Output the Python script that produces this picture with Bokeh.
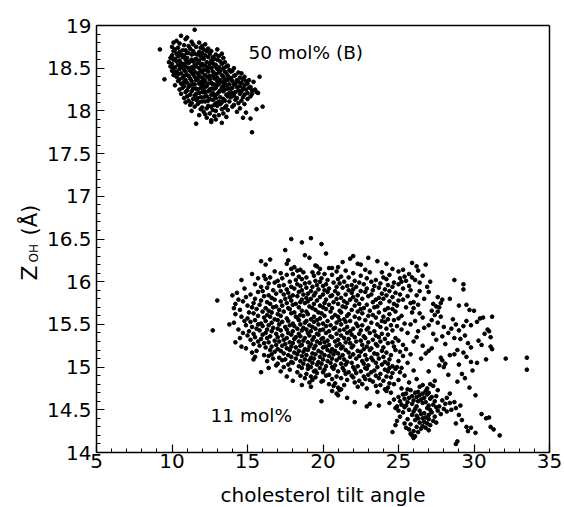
import math
from bokeh.plotting import figure
from bokeh.models import Range1d, FixedTicker, CustomJSTickFormatter, Label, LinearAxis
from bokeh.embed import file_html
from bokeh.resources import INLINE

FONT = "DejaVu Sans"

x_label = "cholesterol tilt angle"
label_b = "50 mol% (B)"
label_c = "11 mol%"
x_ticks = [5, 10, 15, 20, 25, 30, 35]
y_ticks = [14, 14.5, 15, 15.5, 16, 16.5, 17, 17.5, 18, 18.5, 19]

# 50 mol% (B) cluster: tilt angle, Z_OH
b_x = [
    11.5, 10.6, 11.0, 10.9, 10.3, 11.3, 10.1, 10.5, 11.8, 12.2,
    10.8, 11.4, 12.0, 10.0, 10.4, 11.1, 11.6, 12.4, 11.9, 9.2,
    10.2, 10.7, 11.2, 12.1, 12.6, 13.0, 10.1, 10.5, 10.9, 11.4,
    11.8, 12.3, 11.0, 10.3, 10.6, 11.1, 11.5, 11.7, 12.0, 12.5,
    12.9, 13.3, 10.0, 10.4, 10.8, 11.3, 11.9, 12.2, 12.7, 13.1,
    9.9, 10.2, 10.7, 11.0, 11.6, 12.0, 12.4, 12.8, 13.4, 11.3,
    10.1, 10.5, 10.9, 11.2, 11.5, 11.8, 12.1, 12.6, 13.0, 13.2,
    9.8, 10.3, 10.6, 11.0, 11.4, 11.7, 12.3, 12.7, 13.5, 12.0,
    10.0, 10.4, 10.8, 11.1, 11.5, 11.9, 12.2, 12.5, 12.9, 13.3,
    13.7, 9.9, 10.2, 10.6, 10.9, 11.3, 11.6, 12.0, 12.4, 12.8,
    13.1, 13.6, 14.1, 10.1, 10.5, 10.7, 11.1, 11.4, 11.8, 12.1,
    12.6, 13.0, 13.4, 13.8, 10.0, 10.3, 10.8, 11.2, 11.5, 11.9,
    12.3, 12.7, 13.2, 13.5, 14.0, 14.4, 10.2, 10.6, 10.9, 11.3,
    11.7, 12.0, 12.4, 12.8, 13.1, 13.6, 13.9, 14.6, 10.1, 10.4,
    10.8, 11.0, 11.4, 11.8, 12.2, 12.5, 12.9, 13.3, 13.7, 14.2,
    14.8, 10.3, 10.7, 11.1, 11.5, 11.6, 12.0, 12.3, 12.7, 13.0,
    13.4, 13.8, 14.1, 14.5, 15.8, 9.5, 10.5, 10.9, 11.2, 11.7,
    12.1, 12.5, 12.8, 13.2, 13.5, 13.9, 14.3, 14.7, 15.1, 10.4,
    10.8, 11.3, 11.6, 11.9, 12.2, 12.6, 13.0, 13.3, 13.7, 14.0,
    14.4, 14.9, 15.4, 10.6, 11.0, 11.4, 11.8, 12.1, 12.4, 12.8,
    13.1, 13.5, 13.8, 14.2, 14.6, 15.0, 10.2, 10.8, 11.2, 11.5,
    12.0, 12.3, 12.7, 13.0, 13.4, 13.6, 14.1, 14.5, 14.8, 15.2,
    10.7, 11.1, 11.6, 11.9, 12.2, 12.6, 12.9, 13.3, 13.7, 14.0,
    14.3, 14.7, 15.1, 15.5, 10.5, 11.0, 11.4, 11.7, 12.1, 12.5,
    12.8, 13.2, 13.5, 13.9, 14.4, 14.9, 15.3, 10.9, 11.3, 11.8,
    12.0, 12.4, 12.7, 13.1, 13.4, 13.8, 14.2, 14.6, 15.0, 15.6,
    10.6, 11.2, 11.6, 12.2, 12.6, 13.0, 13.6, 14.0, 14.5, 14.8,
    15.3, 15.7, 11.0, 11.5, 11.9, 12.3, 12.8, 13.2, 13.7, 14.1,
    14.7, 15.2, 10.8, 11.4, 11.7, 12.1, 12.5, 12.9, 13.4, 13.9,
    14.3, 15.0, 11.1, 11.6, 12.0, 12.4, 12.7, 13.1, 13.5, 14.2,
    14.6, 10.9, 11.3, 11.8, 12.2, 12.9, 13.3, 13.8, 14.4, 11.2,
    11.7, 12.4, 12.8, 13.2, 13.6, 14.1, 14.8, 11.5, 12.0, 12.6,
    13.0, 13.5, 16.0, 14.0, 11.9, 12.3, 12.7, 13.3, 14.5, 15.6,
    11.3, 12.1, 12.9, 13.7, 14.3, 12.5, 12.2, 13.4, 14.9, 11.8,
    12.8, 13.1, 12.3, 13.6, 14.7, 15.2, 12.9, 12.6, 12.6, 13.3,
    11.6, 15.3,
]
b_y = [
    18.95, 18.88, 18.86, 18.84, 18.82, 18.81, 18.80, 18.79, 18.80, 18.78,
    18.77, 18.78, 18.76, 18.75, 18.74, 18.76, 18.75, 18.73, 18.74, 18.72,
    18.72, 18.71, 18.73, 18.72, 18.70, 18.72, 18.70, 18.69, 18.71, 18.70,
    18.69, 18.70, 18.68, 18.67, 18.66, 18.68, 18.67, 18.66, 18.68, 18.67,
    18.66, 18.67, 18.65, 18.64, 18.65, 18.66, 18.64, 18.65, 18.63, 18.64,
    18.62, 18.61, 18.63, 18.62, 18.61, 18.62, 18.63, 18.61, 18.62, 18.60,
    18.60, 18.59, 18.60, 18.58, 18.60, 18.59, 18.61, 18.59, 18.60, 18.58,
    18.57, 18.58, 18.56, 18.57, 18.58, 18.56, 18.57, 18.56, 18.57, 18.55,
    18.55, 18.54, 18.55, 18.56, 18.54, 18.55, 18.53, 18.55, 18.54, 18.55,
    18.53, 18.52, 18.51, 18.53, 18.52, 18.51, 18.52, 18.53, 18.51, 18.52,
    18.51, 18.52, 18.50, 18.50, 18.49, 18.51, 18.50, 18.49, 18.50, 18.48,
    18.50, 18.49, 18.50, 18.48, 18.47, 18.46, 18.48, 18.47, 18.46, 18.47,
    18.48, 18.46, 18.47, 18.46, 18.47, 18.45, 18.45, 18.44, 18.46, 18.45,
    18.44, 18.45, 18.46, 18.44, 18.45, 18.44, 18.46, 18.44, 18.42, 18.43,
    18.41, 18.42, 18.43, 18.41, 18.42, 18.41, 18.43, 18.42, 18.41, 18.42,
    18.40, 18.40, 18.39, 18.41, 18.40, 18.38, 18.39, 18.40, 18.41, 18.39,
    18.40, 18.39, 18.41, 18.39, 18.40, 18.37, 18.37, 18.36, 18.38, 18.37,
    18.36, 18.37, 18.38, 18.36, 18.37, 18.38, 18.36, 18.37, 18.36, 18.35,
    18.34, 18.35, 18.36, 18.34, 18.35, 18.33, 18.35, 18.34, 18.36, 18.35,
    18.34, 18.35, 18.34, 18.32, 18.33, 18.31, 18.32, 18.33, 18.32, 18.31,
    18.32, 18.33, 18.31, 18.32, 18.33, 18.32, 18.30, 18.29, 18.30, 18.31,
    18.30, 18.29, 18.31, 18.30, 18.29, 18.30, 18.31, 18.29, 18.30, 18.28,
    18.27, 18.28, 18.26, 18.27, 18.28, 18.26, 18.27, 18.28, 18.26, 18.27,
    18.28, 18.26, 18.27, 18.25, 18.25, 18.24, 18.26, 18.25, 18.24, 18.25,
    18.26, 18.24, 18.25, 18.26, 18.24, 18.25, 18.24, 18.22, 18.23, 18.21,
    18.22, 18.23, 18.21, 18.22, 18.23, 18.21, 18.22, 18.23, 18.21, 18.22,
    18.20, 18.19, 18.20, 18.21, 18.19, 18.20, 18.19, 18.21, 18.20, 18.19,
    18.20, 18.21, 18.17, 18.18, 18.16, 18.17, 18.18, 18.16, 18.17, 18.18,
    18.16, 18.17, 18.15, 18.14, 18.15, 18.16, 18.14, 18.15, 18.14, 18.16,
    18.15, 18.14, 18.12, 18.13, 18.11, 18.12, 18.13, 18.11, 18.12, 18.13,
    18.12, 18.10, 18.09, 18.10, 18.11, 18.09, 18.10, 18.11, 18.09, 18.07,
    18.08, 18.06, 18.07, 18.08, 18.06, 18.07, 18.08, 18.05, 18.04, 18.05,
    18.06, 18.04, 18.05, 18.05, 18.02, 18.03, 18.01, 18.02, 18.03, 18.02,
    18.00, 17.99, 18.00, 18.01, 17.99, 17.97, 17.96, 17.97, 17.98, 17.95,
    17.94, 17.95, 17.92, 17.93, 17.92, 17.91, 17.90, 17.89, 17.87, 17.86,
    17.85, 17.75,
]

# 11 mol% cluster: tilt angle, Z_OH
c_x = [
    17.9, 19.2,
    18.6, 19.9,
    17.5,
    20.2,
    18.8, 19.1, 22.0,
    16.5, 21.8, 23.0,
    15.9, 17.7, 21.3, 23.6,
    16.2, 17.6, 19.5, 22.3, 22.5, 24.2, 25.9, 26.8,
    18.1, 19.6, 20.6, 21.0, 26.2,
    17.9, 18.5, 19.8, 20.4, 22.8, 24.6, 25.3,
    16.8, 18.3, 19.3, 20.9, 21.5, 23.9, 25.0, 26.3,
    15.3, 17.2, 18.0, 18.7, 19.7, 20.1, 22.0, 23.1, 25.7,
    16.1, 17.6, 18.4, 19.4, 20.6, 21.2, 22.5, 24.4, 25.4, 26.6,
    15.7, 16.5, 17.3, 18.9, 19.9, 21.7, 22.9, 24.0, 25.1, 25.9,
    14.6, 16.2, 17.0, 18.2, 18.6, 19.5, 20.3, 21.0, 22.1, 23.5, 24.2, 25.5, 26.1, 28.7,
    16.8, 17.8, 19.1, 19.8, 20.7, 21.4, 22.4, 23.2, 24.7, 25.2, 27.1, 26.4,
    15.5, 16.4, 17.4, 18.3, 18.8, 19.6, 20.2, 21.1, 21.9, 22.7, 23.8, 24.3, 25.0, 29.3,
    15.9, 17.1, 17.9, 18.5, 19.3, 20.0, 20.9, 21.6, 22.2, 23.4, 24.6, 25.7, 26.9,
    14.8, 16.3, 17.6, 18.1, 18.9, 19.7, 20.4, 21.3, 22.0, 22.9, 23.7, 24.1, 25.3, 29.3,
    16.0, 16.7, 17.2, 18.6, 19.2, 20.1, 20.8, 21.7, 22.5, 23.3, 24.4, 25.8, 26.4,
    14.3, 15.7, 16.9, 17.7, 18.4, 19.0, 19.5, 20.3, 21.0, 21.9, 22.8, 23.9, 24.8, 27.0,
    14.0, 15.2, 16.4, 17.4, 18.0, 18.7, 19.4, 20.0, 20.6, 21.5, 22.3, 23.2, 24.2, 25.1, 26.2,
    14.9, 16.1, 16.6, 17.8, 18.3, 18.9, 19.8, 20.5, 21.2, 22.0, 23.0, 23.7, 24.6, 25.6, 27.6,
    14.4, 15.5, 16.8, 17.5, 18.6, 19.2, 20.2, 20.9, 21.8, 22.6, 23.5, 24.0, 25.3, 26.7, 27.9, 28.4,
    13.0, 14.7, 15.9, 16.3, 17.2, 17.9, 18.5, 19.0, 19.6, 20.7, 21.4, 22.2, 23.3, 24.4, 25.0, 26.0,
    14.2, 15.4, 16.5, 17.6, 18.2, 18.8, 19.4, 20.1, 21.0, 21.6, 22.4, 23.8, 24.7, 25.8, 27.3, 27.8,
    15.0, 15.8, 16.9, 17.3, 18.0, 19.1, 19.8, 20.4, 21.3, 22.1, 22.9, 23.6, 24.9, 26.3, 27.5, 29.0, 29.5,
    14.1, 15.3, 16.2, 16.7, 17.7, 18.4, 19.3, 20.0, 20.6, 21.5, 22.7, 23.4, 24.3, 25.5, 26.0, 27.7,
    14.5, 15.6, 16.4, 17.1, 17.8, 18.6, 19.5, 20.2, 21.1, 21.9, 22.5, 23.1, 24.1, 24.6, 27.2, 29.7, 30.0,
    15.1, 16.0, 16.6, 17.4, 18.1, 18.9, 19.7, 20.5, 21.2, 22.3, 23.7, 24.8, 25.9, 27.6,
    14.2, 15.4, 16.3, 17.0, 17.9, 18.5, 19.0, 19.9, 20.8, 21.7, 22.6, 23.3, 24.4, 26.4, 27.4,
    14.6, 15.7, 16.5, 17.2, 18.2, 18.7, 19.4, 20.1, 21.0, 21.6, 22.1, 23.0, 24.0, 25.2, 27.8, 30.6, 31.2,
    15.0, 16.1, 16.8, 17.6, 18.3, 19.2, 19.8, 20.6, 21.4, 22.4, 23.5, 24.3, 25.0, 26.6, 28.6, 30.4,
    14.8, 15.5, 16.2, 17.0, 17.7, 18.4, 18.9, 19.6, 20.3, 21.1, 21.8, 22.8, 23.9, 24.7, 26.1, 27.2, 29.5,
    14.1, 15.2, 15.9, 16.6, 17.3, 18.0, 18.8, 19.4, 20.0, 20.9, 21.5, 22.2, 23.2, 24.1, 25.4, 27.6, 30.2,
    13.8, 14.9, 15.7, 16.4, 17.1, 17.8, 18.5, 19.1, 19.7, 20.5, 21.2, 22.6, 23.6, 24.5, 25.8, 27.0, 28.8, 29.8,
    15.3, 16.0, 16.7, 17.5, 18.1, 18.7, 19.3, 20.2, 20.8, 21.6, 22.3, 23.0, 23.8, 24.9, 26.7, 28.0, 29.3,
    14.4, 15.6, 16.3, 17.0, 17.6, 18.3, 18.9, 19.5, 20.0, 20.7, 21.4, 22.0, 22.9, 24.2, 25.2, 28.5, 30.9,
    12.7, 15.1, 15.8, 16.6, 17.2, 18.0, 18.6, 19.2, 19.8, 20.4, 21.1, 21.8, 22.5, 23.4, 24.6, 26.3, 29.0, 31.0,
    14.7, 15.4, 16.2, 16.9, 17.7, 18.4, 19.0, 19.6, 20.2, 20.9, 21.6, 22.4, 23.1, 23.9, 25.6, 27.3, 28.3, 30.7,
    15.0, 16.0, 16.5, 17.3, 17.9, 18.5, 19.1, 19.7, 20.5, 21.2, 21.9, 22.7, 23.5, 24.3, 27.9, 29.4,
    14.5, 15.5, 16.3, 17.0, 17.6, 18.2, 18.8, 19.4, 20.0, 20.6, 21.4, 22.1, 22.8, 23.7, 24.8, 26.2, 28.7, 31.1,
    15.2, 15.9, 16.8, 17.4, 18.1, 18.7, 19.3, 19.9, 20.3, 21.0, 21.7, 22.5, 23.3, 24.1, 25.0, 27.5, 29.1, 30.3,
    14.2, 15.7, 16.4, 17.1, 17.8, 18.4, 19.0, 19.6, 20.1, 20.8, 21.5, 22.2, 23.0, 23.8, 24.6, 26.0,
    15.4, 16.1, 16.9, 17.5, 18.0, 18.6, 19.2, 19.8, 20.4, 21.1, 21.8, 22.6, 23.5, 24.3, 25.3, 28.1, 29.6, 30.5,
    14.6, 15.8, 16.6, 17.3, 17.9, 18.5, 19.1, 19.5, 20.2, 20.9, 21.3, 22.0, 22.9, 23.6, 24.7, 26.6, 31.1,
    14.9, 16.2, 17.0, 17.6, 18.2, 18.8, 19.4, 20.0, 20.6, 21.2, 21.9, 22.7, 23.2, 24.0, 25.5, 27.2, 29.8, 31.2,
    15.6, 16.5, 17.2, 17.8, 18.4, 19.0, 19.7, 20.3, 20.8, 21.5, 22.3, 23.1, 23.9, 24.8, 27.0, 28.9,
    15.3, 16.8, 17.4, 18.1, 18.7, 19.3, 19.9, 20.5, 21.0, 21.7, 22.5, 23.4, 24.2, 25.1, 26.8, 29.3,
    16.1, 16.6, 17.7, 18.3, 18.9, 19.5, 20.1, 20.7, 21.3, 22.0, 22.8, 23.6, 24.5, 25.8, 28.4, 28.7,
    15.5, 16.4, 17.1, 17.9, 18.6, 19.2, 19.8, 20.4, 21.1, 21.8, 22.4, 23.2, 24.0, 25.3, 27.8, 29.5,
    15.4, 16.7, 17.5, 18.2, 18.8, 19.4, 20.0, 20.6, 21.4, 22.2, 22.9, 23.7, 24.4, 26.5, 32.1, 33.5, 30.8,
    16.3, 17.3, 17.9, 18.5, 19.1, 19.7, 20.3, 20.9, 21.6, 22.6, 23.3, 24.1, 25.0, 27.9, 29.8,
    17.0, 18.0, 18.7, 19.3, 19.9, 20.5, 21.2, 21.9, 22.7, 23.5, 24.3, 25.6, 28.1, 30.2,
    16.9, 17.7, 18.4, 19.0, 19.6, 20.2, 20.8, 21.5, 22.3, 23.0, 23.9, 24.6, 27.7, 29.0,
    16.4, 17.4, 18.6, 19.2, 19.8, 20.6, 21.3, 22.0, 22.8, 23.6, 24.4, 24.9, 25.2, 28.0,
    17.8, 19.0, 19.5, 20.1, 20.7, 21.4, 22.1, 22.9, 23.4, 24.1, 24.8, 26.0, 33.5, 29.9,
    15.9, 17.2, 18.3, 19.4, 20.0, 21.0, 21.7, 22.5, 23.2, 24.3, 25.1, 27.0,
    18.9, 19.6, 20.4, 21.5, 22.2, 23.0, 23.8, 24.6, 28.3, 29.2,
    17.6, 18.5, 19.2, 20.2, 20.9, 21.9, 22.7, 23.5, 24.2, 25.4,
    18.8, 19.5, 20.6, 21.2, 22.0, 22.8, 23.7, 24.5, 26.2, 29.4,
    18.0, 19.3, 20.0, 21.6, 22.4, 23.1, 24.0, 25.0, 27.4,
    19.1, 19.9, 20.8, 22.1, 23.3, 24.4, 25.7, 28.9,
    18.6, 20.4, 21.4, 22.6, 23.8, 24.7, 26.6, 27.1,
    19.2, 20.7, 21.0, 22.3, 23.5, 24.3, 26.4, 27.3, 29.7,
    21.2, 22.9, 24.1, 25.2, 25.6, 26.9,
    20.6, 21.1, 23.6, 24.2, 25.8, 26.3, 26.8, 27.6,
    20.9, 24.5, 25.5, 26.1, 26.6, 27.0, 28.4,
    21.0, 25.3, 25.9, 26.4, 26.9, 27.5, 30.1,
    21.6, 25.0, 25.7, 26.2, 26.7, 27.2, 28.2,
    24.7, 25.4, 26.0, 26.5, 27.1, 27.9,
    19.9, 22.1, 25.1, 25.6, 26.3, 26.8, 27.4, 28.7,
    23.1, 24.4, 25.2, 25.9, 26.6, 27.3, 28.1, 28.4,
    22.9, 23.7, 24.9, 25.5, 26.2, 27.0, 27.7, 29.1,
    24.8, 25.4, 26.1, 26.9, 27.5, 28.0, 28.8,
    25.0, 25.7, 26.4, 27.1, 27.6, 28.5,
    25.3, 26.0, 26.7, 27.2, 28.2,
    25.9, 26.5, 27.0, 27.8, 29.0, 30.5,
    25.1, 26.2, 26.8, 27.4, 31.0,
    25.6, 26.3, 27.0, 26.6, 30.8,
    24.9, 26.1, 26.7, 27.3, 29.2,
    25.4, 26.4, 26.9, 27.5, 28.8,
    24.8, 25.8, 26.6, 27.1,
    25.5, 26.2, 26.8, 29.5, 29.8, 31.1,
    25.7, 26.5, 27.0, 31.3,
    24.6, 26.0, 26.3, 29.6,
    25.8, 30.1,
    25.9, 26.1, 31.7,
    26.0,
    28.9,
    28.8,
]
c_y = [
    16.50, 16.51,
    16.46, 16.44,
    16.37,
    16.33,
    16.31, 16.28, 16.30,
    16.26, 16.27, 16.28,
    16.24, 16.25, 16.23, 16.24,
    16.20, 16.21, 16.19, 16.21, 16.20, 16.21, 16.22, 16.20,
    16.17, 16.18, 16.16, 16.17, 16.18,
    16.15, 16.14, 16.15, 16.16, 16.14, 16.15, 16.14,
    16.12, 16.13, 16.11, 16.12, 16.13, 16.11, 16.12, 16.13,
    16.09, 16.10, 16.09, 16.11, 16.10, 16.09, 16.10, 16.11, 16.09,
    16.07, 16.08, 16.06, 16.07, 16.08, 16.06, 16.07, 16.08, 16.06, 16.07,
    16.04, 16.05, 16.04, 16.05, 16.04, 16.05, 16.04, 16.05, 16.04, 16.05,
    16.02, 16.03, 16.01, 16.02, 16.03, 16.01, 16.02, 16.03, 16.01, 16.02, 16.03, 16.01, 16.02, 16.02,
    15.99, 16.00, 15.99, 16.00, 15.99, 16.00, 15.99, 16.00, 15.99, 16.00, 16.00, 15.99,
    15.97, 15.98, 15.96, 15.97, 15.98, 15.96, 15.97, 15.98, 15.96, 15.97, 15.98, 15.96, 15.97, 15.97,
    15.94, 15.95, 15.94, 15.95, 15.94, 15.95, 15.94, 15.95, 15.94, 15.95, 15.94, 15.95, 15.94,
    15.92, 15.93, 15.91, 15.92, 15.93, 15.91, 15.92, 15.93, 15.91, 15.92, 15.93, 15.91, 15.92, 15.91,
    15.89, 15.90, 15.89, 15.90, 15.89, 15.90, 15.89, 15.90, 15.89, 15.90, 15.89, 15.90, 15.89,
    15.87, 15.88, 15.86, 15.87, 15.88, 15.86, 15.87, 15.88, 15.86, 15.87, 15.88, 15.86, 15.87, 15.88,
    15.84, 15.85, 15.84, 15.85, 15.84, 15.85, 15.84, 15.85, 15.84, 15.85, 15.84, 15.85, 15.84, 15.85, 15.84,
    15.82, 15.83, 15.81, 15.82, 15.83, 15.81, 15.82, 15.83, 15.81, 15.82, 15.83, 15.81, 15.82, 15.83, 15.82,
    15.79, 15.80, 15.79, 15.80, 15.79, 15.80, 15.79, 15.80, 15.79, 15.80, 15.79, 15.80, 15.79, 15.80, 15.79, 15.80,
    15.78, 15.77, 15.78, 15.76, 15.77, 15.78, 15.76, 15.77, 15.78, 15.76, 15.77, 15.78, 15.76, 15.77, 15.78, 15.76,
    15.74, 15.75, 15.74, 15.75, 15.74, 15.75, 15.74, 15.75, 15.74, 15.75, 15.74, 15.75, 15.74, 15.75, 15.74, 15.75,
    15.72, 15.73, 15.71, 15.72, 15.73, 15.71, 15.72, 15.73, 15.71, 15.72, 15.73, 15.71, 15.72, 15.73, 15.71, 15.72, 15.73,
    15.69, 15.70, 15.69, 15.70, 15.69, 15.70, 15.69, 15.70, 15.69, 15.70, 15.69, 15.70, 15.69, 15.70, 15.69, 15.70,
    15.67, 15.68, 15.66, 15.67, 15.68, 15.66, 15.67, 15.68, 15.66, 15.67, 15.68, 15.66, 15.67, 15.68, 15.66, 15.67, 15.66,
    15.64, 15.65, 15.64, 15.65, 15.64, 15.65, 15.64, 15.65, 15.64, 15.65, 15.64, 15.65, 15.64, 15.65,
    15.62, 15.63, 15.61, 15.62, 15.63, 15.61, 15.62, 15.63, 15.61, 15.62, 15.63, 15.61, 15.62, 15.63, 15.61,
    15.59, 15.60, 15.59, 15.60, 15.59, 15.60, 15.59, 15.60, 15.59, 15.60, 15.59, 15.60, 15.59, 15.60, 15.59, 15.58, 15.59,
    15.57, 15.58, 15.56, 15.57, 15.58, 15.56, 15.57, 15.58, 15.56, 15.57, 15.58, 15.56, 15.57, 15.58, 15.56, 15.57,
    15.54, 15.55, 15.54, 15.55, 15.54, 15.55, 15.54, 15.55, 15.54, 15.55, 15.54, 15.55, 15.54, 15.55, 15.54, 15.55, 15.54,
    15.52, 15.53, 15.51, 15.52, 15.53, 15.51, 15.52, 15.53, 15.51, 15.52, 15.53, 15.51, 15.52, 15.53, 15.51, 15.52, 15.53,
    15.50, 15.49, 15.50, 15.49, 15.50, 15.49, 15.50, 15.49, 15.50, 15.49, 15.50, 15.49, 15.50, 15.49, 15.50, 15.49, 15.50, 15.49,
    15.47, 15.48, 15.46, 15.47, 15.48, 15.46, 15.47, 15.48, 15.46, 15.47, 15.48, 15.46, 15.47, 15.48, 15.46, 15.47, 15.48,
    15.44, 15.45, 15.44, 15.45, 15.44, 15.45, 15.44, 15.45, 15.44, 15.45, 15.44, 15.45, 15.44, 15.45, 15.44, 15.45, 15.44,
    15.43, 15.42, 15.43, 15.42, 15.43, 15.42, 15.43, 15.42, 15.43, 15.42, 15.43, 15.42, 15.43, 15.42, 15.43, 15.42, 15.43, 15.42,
    15.40, 15.39, 15.40, 15.39, 15.40, 15.39, 15.40, 15.39, 15.40, 15.39, 15.40, 15.39, 15.40, 15.39, 15.40, 15.39, 15.40, 15.39,
    15.37, 15.38, 15.36, 15.37, 15.38, 15.36, 15.37, 15.38, 15.36, 15.37, 15.38, 15.36, 15.37, 15.38, 15.36, 15.37,
    15.34, 15.35, 15.34, 15.35, 15.34, 15.35, 15.34, 15.35, 15.34, 15.35, 15.34, 15.35, 15.34, 15.35, 15.34, 15.35, 15.34, 15.35,
    15.32, 15.33, 15.31, 15.32, 15.33, 15.31, 15.32, 15.33, 15.31, 15.32, 15.33, 15.31, 15.32, 15.33, 15.31, 15.32, 15.33, 15.31,
    15.29, 15.30, 15.29, 15.30, 15.29, 15.30, 15.29, 15.30, 15.29, 15.30, 15.29, 15.30, 15.29, 15.30, 15.29, 15.30,
    15.27, 15.28, 15.26, 15.27, 15.28, 15.26, 15.27, 15.28, 15.26, 15.27, 15.28, 15.26, 15.27, 15.28, 15.26, 15.27, 15.28, 15.26,
    15.24, 15.25, 15.24, 15.25, 15.24, 15.25, 15.24, 15.25, 15.24, 15.25, 15.24, 15.25, 15.24, 15.25, 15.24, 15.25, 15.24,
    15.22, 15.23, 15.21, 15.22, 15.23, 15.21, 15.22, 15.23, 15.21, 15.22, 15.23, 15.21, 15.22, 15.23, 15.21, 15.22, 15.23, 15.21,
    15.19, 15.20, 15.19, 15.20, 15.19, 15.20, 15.19, 15.20, 15.19, 15.20, 15.19, 15.20, 15.19, 15.20, 15.19, 15.20,
    15.17, 15.18, 15.16, 15.17, 15.18, 15.16, 15.17, 15.18, 15.16, 15.17, 15.18, 15.16, 15.17, 15.18, 15.16, 15.17,
    15.14, 15.15, 15.14, 15.15, 15.14, 15.15, 15.14, 15.15, 15.14, 15.15, 15.14, 15.15, 15.14, 15.15, 15.14, 15.15,
    15.12, 15.13, 15.11, 15.12, 15.13, 15.11, 15.12, 15.13, 15.11, 15.12, 15.13, 15.11, 15.12, 15.13, 15.11, 15.12,
    15.09, 15.10, 15.09, 15.10, 15.09, 15.10, 15.09, 15.10, 15.09, 15.10, 15.09, 15.10, 15.09, 15.10, 15.10, 15.11, 15.09,
    15.07, 15.08, 15.06, 15.07, 15.08, 15.06, 15.07, 15.08, 15.06, 15.07, 15.08, 15.06, 15.07, 15.08, 15.06,
    15.04, 15.05, 15.04, 15.05, 15.04, 15.05, 15.04, 15.05, 15.04, 15.05, 15.04, 15.05, 15.04, 15.05,
    15.02, 15.03, 15.01, 15.02, 15.03, 15.01, 15.02, 15.03, 15.01, 15.02, 15.03, 15.01, 15.02, 15.03,
    14.99, 15.00, 14.99, 15.00, 14.99, 15.00, 14.99, 15.00, 14.99, 15.00, 14.99, 15.00, 14.99, 15.00,
    14.97, 14.98, 14.96, 14.97, 14.98, 14.96, 14.97, 14.98, 14.96, 14.97, 14.98, 14.96, 14.97, 14.96,
    14.94, 14.95, 14.94, 14.95, 14.94, 14.95, 14.94, 14.95, 14.94, 14.95, 14.94, 14.95,
    14.92, 14.93, 14.91, 14.92, 14.93, 14.91, 14.92, 14.93, 14.91, 14.92,
    14.89, 14.90, 14.89, 14.90, 14.89, 14.90, 14.89, 14.90, 14.89, 14.90,
    14.87, 14.88, 14.86, 14.87, 14.88, 14.86, 14.87, 14.88, 14.86, 14.87,
    14.84, 14.85, 14.84, 14.85, 14.84, 14.85, 14.84, 14.85, 14.84,
    14.82, 14.83, 14.81, 14.82, 14.83, 14.81, 14.82, 14.83,
    14.79, 14.80, 14.79, 14.80, 14.79, 14.80, 14.79, 14.80,
    14.77, 14.78, 14.76, 14.77, 14.78, 14.76, 14.77, 14.78, 14.76,
    14.74, 14.75, 14.74, 14.75, 14.74, 14.75,
    14.72, 14.73, 14.71, 14.72, 14.73, 14.71, 14.72, 14.73,
    14.69, 14.70, 14.69, 14.70, 14.69, 14.70, 14.69,
    14.67, 14.68, 14.66, 14.67, 14.68, 14.66, 14.67,
    14.64, 14.65, 14.64, 14.65, 14.64, 14.65, 14.64,
    14.62, 14.63, 14.61, 14.62, 14.63, 14.61,
    14.60, 14.59, 14.60, 14.59, 14.60, 14.59, 14.60, 14.59,
    14.57, 14.58, 14.56, 14.57, 14.58, 14.56, 14.57, 14.58,
    14.54, 14.55, 14.54, 14.55, 14.54, 14.55, 14.54, 14.55,
    14.52, 14.53, 14.51, 14.52, 14.53, 14.51, 14.52,
    14.49, 14.50, 14.49, 14.50, 14.49, 14.50,
    14.47, 14.48, 14.46, 14.47, 14.48,
    14.44, 14.45, 14.44, 14.45, 14.44, 14.45,
    14.42, 14.43, 14.41, 14.42, 14.41,
    14.39, 14.40, 14.39, 14.40, 14.40,
    14.37, 14.38, 14.36, 14.37, 14.38,
    14.34, 14.35, 14.34, 14.35, 14.34,
    14.32, 14.33, 14.31, 14.32,
    14.29, 14.30, 14.29, 14.30, 14.29, 14.30,
    14.27, 14.28, 14.26, 14.27,
    14.24, 14.25, 14.24, 14.25,
    14.22, 14.23,
    14.20, 14.19, 14.20,
    14.17,
    14.13,
    14.10,
]

assert len(b_x) == len(b_y), (len(b_x), len(b_y))
assert len(c_x) == len(c_y), (len(c_x), len(c_y))

# Frame fills the canvas; the data box (5..35, 14..19) sits at x 96..549, y 25..452 px.
W, H = 564, 507
PX_L, PX_R, PX_T, PX_B = 96, 549, 25, 452
sx = (x_ticks[-1] - x_ticks[0]) / (PX_R - PX_L)
sy = (y_ticks[-1] - y_ticks[0]) / (PX_B - PX_T)
xr = Range1d(x_ticks[0] - PX_L * sx, x_ticks[-1] + (W - PX_R) * sx)
yr = Range1d(y_ticks[0] - (H - PX_B) * sy, y_ticks[-1] + PX_T * sy)

p = figure(width=W, height=H, output_backend="svg", toolbar_location=None,
           x_range=xr, y_range=yr, min_border=0)
p.background_fill_color = "white"
p.border_fill_color = "white"
p.grid.visible = False
p.outline_line_color = None

x_minor = [v for v in range(5, 36) if v % 5 != 0]
y_minor = [round(14 + 0.1 * i, 1) for i in range(51) if i % 5 != 0]

xa = p.xaxis[0]
ya = p.yaxis[0]
xa.fixed_location = y_ticks[0]
ya.fixed_location = x_ticks[0]
xa.bounds = (x_ticks[0], x_ticks[-1])
ya.bounds = (y_ticks[0], y_ticks[-1])
xa.ticker = FixedTicker(ticks=x_ticks, minor_ticks=x_minor)
ya.ticker = FixedTicker(ticks=y_ticks, minor_ticks=y_minor)
ya.formatter = CustomJSTickFormatter(code="return String(Math.round(tick*10)/10);")

for ax in (xa, ya):
    ax.axis_line_color = "black"
    ax.axis_line_width = 1.5
    ax.major_tick_line_color = "black"
    ax.minor_tick_line_color = "black"
    ax.major_tick_line_width = 1.2
    ax.minor_tick_line_width = 1
    ax.major_tick_in = 8
    ax.major_tick_out = 0
    ax.minor_tick_in = 4
    ax.minor_tick_out = 0
    ax.major_label_text_font = FONT
    ax.major_label_text_font_size = "20px"
    ax.major_label_text_color = "black"

xa.major_label_standoff = 1
ya.major_label_standoff = 5
xa.axis_label = x_label
xa.axis_label_text_font = FONT
xa.axis_label_text_font_size = "20px"
xa.axis_label_text_font_style = "normal"
xa.axis_label_text_color = "black"
xa.axis_label_standoff = 12

# top and right edges of the box
top = LinearAxis(fixed_location=y_ticks[-1], bounds=(x_ticks[0], x_ticks[-1]),
                 ticker=FixedTicker(ticks=[]), major_label_text_font_size="0px",
                 axis_line_color="black", axis_line_width=1.5,
                 major_tick_line_color=None, minor_tick_line_color=None)
right = LinearAxis(fixed_location=x_ticks[-1], bounds=(y_ticks[0], y_ticks[-1]),
                   ticker=FixedTicker(ticks=[]), major_label_text_font_size="0px",
                   axis_line_color="black", axis_line_width=1.5,
                   major_tick_line_color=None, minor_tick_line_color=None)
p.add_layout(top, "above")
p.add_layout(right, "right")

p.scatter(b_x, b_y, size=3.7, color="black", marker="circle")
p.scatter(c_x, c_y, size=3.7, color="black", marker="circle")

p.add_layout(Label(x=15.07, y=18.68, text=label_b, text_font=FONT,
                   text_font_size="18.5px", text_baseline="middle", text_color="black"))
p.add_layout(Label(x=12.55, y=14.43, text=label_c, text_font=FONT,
                   text_font_size="18.5px", text_baseline="middle", text_color="black"))

# y-axis title Z_OH (Å), rotated, placed left of the tick labels
def px_to_x(px):
    return x_ticks[0] + (px - PX_L) * sx

def px_to_y(py):
    return y_ticks[0] + (PX_B - py) * sy

for txt, bx, by, fs in (("Z", 29, 280, "22px"), ("OH", 33, 262, "12px"), ("(Å)", 29, 235, "21px")):
    p.add_layout(Label(x=px_to_x(bx), y=px_to_y(by), text=txt,
                       angle=math.pi / 2, text_font=FONT, text_font_size=fs,
                       text_align="left", text_baseline="alphabetic", text_color="black"))

open("out.html", "w").write(file_html(p, INLINE))
